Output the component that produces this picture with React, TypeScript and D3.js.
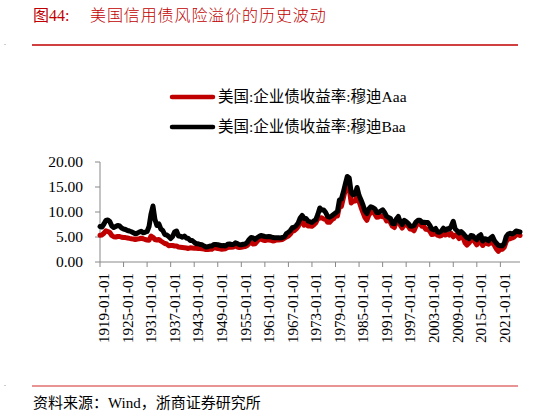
import React from 'react';
import * as d3 from 'd3';

// semi-annual readings (Jan, Jul) from 1919-01 to 2026-01
const startYear = 1919;

const aaa: number[] = [
  5.35, 5.41, 5.75, 6.25, 6.1, 5.9, 5.3, 5.05, 5.0, 5.1,
  5.1, 4.95, 4.9, 4.88, 4.8, 4.72, 4.65, 4.6, 4.5, 4.6,
  4.65, 4.75, 4.65, 4.5, 4.4, 4.35, 5.2, 4.95, 4.5, 4.4,
  4.5, 4.2, 3.95, 3.7, 3.6, 3.25, 3.3, 3.3, 3.2, 3.2,
  3.0, 2.95, 2.9, 2.85, 2.8, 2.7, 2.85, 2.8, 2.75, 2.75,
  2.72, 2.7, 2.65, 2.6, 2.5, 2.5, 2.55, 2.55, 2.85, 2.8,
  2.7, 2.65, 2.55, 2.6, 2.65, 2.9, 2.95, 2.95, 3.0, 3.3,
  3.0, 2.9, 2.95, 3.05, 3.1, 3.3, 3.75, 3.9, 3.6, 3.65,
  4.1, 4.45, 4.6, 4.4, 4.3, 4.4, 4.4, 4.35, 4.2, 4.25,
  4.4, 4.4, 4.45, 4.5, 4.75, 5.0, 5.2, 5.6, 6.2, 6.25,
  6.6, 7.1, 7.9, 8.4, 7.35, 7.6, 7.2, 7.2, 7.15, 7.45,
  7.85, 8.7, 8.8, 8.85, 8.6, 8.55, 7.95, 7.95, 8.4, 8.65,
  9.25, 9.2, 11.1, 11.1, 12.8, 14.4, 15.2, 14.6, 11.8, 12.15,
  12.2, 13.4, 12.1, 10.95, 9.9, 8.9, 8.35, 9.4, 9.9, 10.1,
  9.6, 8.95, 9.0, 9.25, 9.05, 9.0, 8.2, 8.4, 7.9, 7.15,
  6.9, 8.1, 8.45, 7.4, 6.8, 7.5, 7.4, 7.2, 6.6, 6.55,
  6.25, 7.2, 7.8, 7.65, 7.15, 7.1, 6.55, 6.5, 6.2, 5.5,
  5.55, 5.8, 5.35, 5.2, 5.3, 5.85, 5.4, 5.7, 5.35, 5.7,
  5.05, 5.4, 5.25, 4.7, 5.05, 4.9, 3.85, 3.4, 3.8, 4.35,
  4.5, 4.05, 3.45, 4.15, 4.0, 3.3, 3.9, 3.7, 3.55, 3.9,
  3.9, 3.3, 2.6, 2.15, 2.5, 2.55, 2.95, 4.1, 4.6, 4.65,
  4.8, 5.0, 5.4, 5.5, 5.3,
];

const baa: number[] = [
  7.1, 7.0, 7.6, 8.3, 8.4, 8.1, 7.2, 6.9, 7.1, 7.3,
  7.2, 6.8, 6.6, 6.5, 6.3, 6.2, 6.05, 5.85, 5.65, 5.75,
  6.0, 6.15, 5.85, 5.95, 6.1, 7.1, 9.6, 11.2, 8.5, 7.3,
  7.6, 6.6, 6.3, 5.5, 5.4, 5.1, 4.7, 5.1, 6.0, 6.2,
  5.2, 5.15, 4.95, 5.2, 4.8, 4.7, 4.3, 4.3, 3.95, 3.65,
  3.65, 3.5, 3.45, 3.2, 3.0, 3.05, 3.2, 3.2, 3.5, 3.5,
  3.45, 3.35, 3.25, 3.3, 3.2, 3.55, 3.6, 3.5, 3.5, 3.85,
  3.7, 3.45, 3.45, 3.55, 3.6, 3.9, 4.5, 4.9, 4.8, 4.5,
  4.85, 5.1, 5.3, 5.2, 5.1, 5.05, 5.1, 5.05, 4.9, 4.85,
  4.85, 4.83, 4.8, 4.9, 5.06, 5.7, 5.95, 6.3, 6.85, 6.95,
  7.3, 7.8, 8.8, 9.3, 8.7, 8.7, 8.2, 8.05, 7.9, 8.25,
  8.5, 9.5, 10.8, 10.4, 10.4, 9.9, 9.1, 8.95, 9.2, 9.5,
  9.8, 10.1, 12.4, 12.6, 14.0, 15.6, 17.1, 16.8, 13.9, 13.4,
  13.65, 14.9, 13.3, 12.4, 11.4, 10.2, 9.7, 10.6, 11.05, 10.9,
  10.65, 9.9, 9.9, 10.2, 10.45, 9.9, 9.15, 8.9, 8.7, 7.7,
  7.65, 8.6, 9.1, 8.05, 7.5, 8.35, 8.1, 7.75, 7.2, 7.15,
  7.3, 8.0, 8.35, 8.35, 7.9, 7.95, 7.9, 7.9, 7.35, 6.6,
  6.45, 6.7, 6.0, 5.95, 6.2, 6.75, 6.35, 6.65, 6.55, 7.2,
  8.14, 6.6, 6.25, 5.8, 6.1, 5.75, 5.25, 4.85, 4.65, 5.3,
  5.2, 4.75, 4.45, 5.2, 5.45, 4.2, 4.65, 4.55, 4.25, 4.8,
  5.1, 4.25, 3.75, 3.35, 3.25, 3.25, 3.7, 5.1, 5.6, 5.75,
  5.6, 5.8, 6.2, 6.1, 6.0,
];

const tickYears = [1919, 1925, 1931, 1937, 1943, 1949, 1955, 1961, 1967, 1973, 1979, 1985, 1991, 1997, 2003, 2009, 2015, 2021];
const yTicks = [0, 5, 10, 15, 20];

const seriesNames = ['美国:企业债收益率:穆迪Aaa', '美国:企业债收益率:穆迪Baa'];
const seriesColors = ['#c00000', '#000000'];

const W = 548;
const H = 417;
const plot = { left: 100, right: 520, top: 162, bottom: 262 };
const serif = '"Liberation Serif", "Times New Roman", "Noto Sans CJK SC", serif';

const dateAt = (i: number) => new Date(startYear + Math.floor(i / 2), (i % 2) * 6, 1);

const App: React.FC = () => {
  const x = d3
    .scaleTime()
    .domain([dateAt(0), dateAt(aaa.length - 1)])
    .range([plot.left, plot.right]);
  const y = d3.scaleLinear().domain([0, 20]).range([plot.bottom, plot.top]);

  const line = d3
    .line<number>()
    .x((_, i) => x(dateAt(i)))
    .y((d) => y(d));

  return (
    <svg width={W} height={H} style={{ position: 'absolute', left: 0, top: 0, background: '#fff' }}>
      {/* title */}
      <text x={33} y={21} fill="#c00000" fontSize={16} fontFamily={serif}>
        图44:
      </text>
      <text x={90} y={21} fill="#c00000" fontSize={16} letterSpacing={0.9} fontWeight={300} fontFamily={serif}>
        美国信用债风险溢价的历史波动
      </text>
      <line x1={32} x2={518} y1={45} y2={45} stroke="#c00000" strokeWidth={1.3} />
      <rect x={4} y={44} width={2} height={1} fill="#ccc" />
      <rect x={4} y={385} width={2} height={1} fill="#ccc" />

      {/* legend */}
      {seriesNames.map((name, i) => (
        <g key={name} transform={`translate(0, ${97 + i * 30})`}>
          <line x1={172} x2={213} y1={0} y2={0} stroke={seriesColors[i]} strokeWidth={4.5} strokeLinecap="round" />
          <text x={218} y={5} fontSize={15.5} fontFamily={serif} fill="#000">
            {name}
          </text>
        </g>
      ))}

      {/* y axis */}
      <line x1={plot.left} x2={plot.left} y1={plot.top} y2={plot.bottom} stroke="#888" strokeWidth={1} />
      {yTicks.map((t) => (
        <g key={t}>
          <line x1={plot.left - 5} x2={plot.left} y1={y(t)} y2={y(t)} stroke="#888" />
          <text x={83} y={y(t)} dy="0.35em" textAnchor="end" fontSize={15.5} fontFamily={serif} fill="#000">
            {d3.format('.2f')(t)}
          </text>
        </g>
      ))}

      {/* x axis */}
      <line x1={plot.left} x2={plot.right} y1={plot.bottom} y2={plot.bottom} stroke="#888" strokeWidth={1} />
      {tickYears.map((yr) => {
        const tx = x(new Date(yr, 0, 1));
        return (
          <g key={yr}>
            <line x1={tx} x2={tx} y1={plot.bottom} y2={plot.bottom + 5} stroke="#888" />
            <text
              transform={`translate(${tx + 4}, ${plot.bottom + 11}) rotate(-90)`}
              dy="0.35em"
              textAnchor="end"
              fontSize={15}
              fontFamily={serif}
              fill="#000"
            >
              {`${yr}-01-01`}
            </text>
          </g>
        );
      })}

      {/* series */}
      {[aaa, baa].map((s, i) => (
        <path
          key={i}
          d={line(s) ?? ''}
          fill="none"
          stroke={seriesColors[i]}
          strokeWidth={5}
          strokeLinejoin="round"
          strokeLinecap="round"
        />
      ))}

      {/* footer */}
      <line x1={32} x2={518} y1={386} y2={386} stroke="#e07070" strokeWidth={1.3} />
      <text x={33} y={408} fontSize={15} fontFamily={serif} fill="#000">
        资料来源：Wind，浙商证券研究所
      </text>
    </svg>
  );
};

export default App;
